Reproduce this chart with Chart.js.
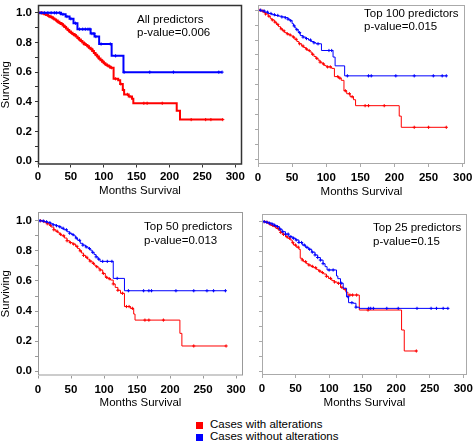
<!DOCTYPE html>
<html>
<head>
<meta charset="utf-8">
<script src="https://cdn.jsdelivr.net/npm/chart.js@4.4.1/dist/chart.umd.min.js"></script>
<style>
body { margin:0; background:#fff; width:473px; height:442px; position:relative; overflow:hidden; font-family:"Liberation Sans", Arial, sans-serif; }
canvas { position:absolute; }
.note { position:absolute; font-size:11.5px; color:#000; white-space:nowrap; }
.leg { position:absolute; left:196px; font-size:11.5px; line-height:12px; white-space:nowrap; }
.leg span { display:inline-block; width:7px; height:7px; margin-right:7px; vertical-align:-0.5px; }
</style>
</head>
<body>
<canvas id="c1" width="250" height="200" style="left:0;top:0"></canvas>
<canvas id="c2" width="228" height="200" style="left:245px;top:0"></canvas>
<canvas id="c3" width="250" height="211" style="left:0;top:200px"></canvas>
<canvas id="c4" width="228" height="211" style="left:245px;top:200px"></canvas>

<div class="note" style="left:137px;top:13px;line-height:12.5px">All predictors<br>p-value=0.006</div>
<div class="note" style="left:364px;top:7px;line-height:12.5px">Top 100 predictors<br>p-value=0.015</div>
<div class="note" style="left:144px;top:219px;line-height:14px">Top 50 predictors<br>p-value=0.013</div>
<div class="note" style="left:373px;top:220px;line-height:14px">Top 25 predictors<br>p-value=0.15</div>

<div class="leg" style="top:418px"><span style="background:#ff0000"></span>Cases with alterations</div>
<div class="leg" style="top:430px"><span style="background:#0000ff"></span>Cases without alterations</div>

<script>
// All predictors
const p1RedT = [0, 5, 7.5, 10, 12.5, 15, 17.5, 20, 22.5, 25, 27.5, 30, 32.5, 35, 37.5, 40, 42.5, 45, 47.5, 50, 52.5, 55, 57.5, 60, 62.5, 65, 67.5, 70, 72.5, 75, 77.5, 80, 82.5, 85, 87.5, 90, 92.5, 95, 97.5, 100, 102.5, 105, 107.5, 110, 115, 122, 125, 129, 131, 138, 143, 145, 211, 216, 281];
const p1RedS = [1.0, 1.0, 0.995, 0.99, 0.985, 0.98, 0.975, 0.97, 0.962, 0.955, 0.948, 0.94, 0.932, 0.925, 0.915, 0.905, 0.895, 0.885, 0.875, 0.865, 0.858, 0.85, 0.84, 0.83, 0.82, 0.81, 0.80, 0.79, 0.783, 0.775, 0.765, 0.755, 0.742, 0.73, 0.718, 0.705, 0.692, 0.68, 0.67, 0.66, 0.652, 0.645, 0.638, 0.63, 0.555, 0.545, 0.52, 0.48, 0.45, 0.435, 0.42, 0.39, 0.34, 0.28, 0.28];
const p1RedC = [3, 6, 9, 12, 16, 18, 21, 24, 28, 30, 33, 37, 39, 42, 46, 48, 51, 55, 57, 61, 63, 66, 70, 72, 76, 78, 82, 84, 88, 91, 93, 97, 99, 103, 106, 109, 112, 118, 126, 130, 136, 140, 161, 166, 189, 233, 255, 263, 281];
const p1BlueT = [0, 30, 35, 42, 48, 54, 60, 80, 86, 93, 112, 130, 280];
const p1BlueS = [1.0, 1.0, 0.99, 0.975, 0.96, 0.93, 0.89, 0.86, 0.84, 0.79, 0.71, 0.60, 0.60];
const p1BlueC = [5, 10, 15, 20, 25, 28, 33, 38, 44, 50, 57, 63, 68, 72, 76, 79, 82, 85, 88, 96, 110, 118, 131, 170, 206, 275, 280];

// Top 100 predictors
const p2RedT = [0, 4, 8, 11, 15, 18, 20, 24, 27, 30, 33, 36, 39, 42, 45, 48, 51, 54, 57, 60, 64, 67, 70, 73, 76, 79, 82, 85, 88, 91, 94, 97, 100, 108, 112, 118, 122, 126, 130, 135, 140, 143, 207, 210, 276];
const p2RedS = [1.0, 0.995, 0.985, 0.975, 0.96, 0.945, 0.935, 0.92, 0.905, 0.89, 0.875, 0.862, 0.85, 0.842, 0.835, 0.828, 0.82, 0.805, 0.79, 0.775, 0.76, 0.75, 0.74, 0.73, 0.72, 0.705, 0.69, 0.678, 0.665, 0.652, 0.64, 0.63, 0.62, 0.61, 0.555, 0.545, 0.53, 0.46, 0.44, 0.42, 0.40, 0.36, 0.29, 0.215, 0.215];
const p2RedC = [3, 7, 11, 16, 21, 25, 29, 34, 38, 43, 47, 52, 56, 61, 66, 71, 75, 80, 86, 91, 96, 102, 106, 117, 120, 128, 134, 138, 157, 162, 185, 229, 250, 276];
const p2BlueT = [0, 5, 10, 15, 20, 25, 30, 35, 40, 44, 47, 50, 52, 54, 56, 59, 62, 66, 70, 74, 78, 82, 85, 93, 110, 113, 127, 276];
const p2BlueS = [1.0, 0.995, 0.987, 0.978, 0.97, 0.965, 0.96, 0.955, 0.95, 0.94, 0.93, 0.91, 0.895, 0.882, 0.87, 0.85, 0.83, 0.82, 0.81, 0.80, 0.79, 0.782, 0.775, 0.73, 0.686, 0.627, 0.56, 0.56];
const p2BlueC = [4, 9, 14, 19, 24, 29, 35, 40, 44, 48, 53, 57, 61, 66, 71, 77, 82, 88, 104, 108, 131, 162, 166, 202, 229, 257, 270, 276];

// Top 50 predictors
const p3RedT = [0, 7, 10, 14, 17, 20, 24, 27, 30, 33, 36, 40, 44, 48, 52, 57, 60, 63, 66, 69, 72, 75, 78, 82, 85, 88, 91, 94, 98, 102, 106, 110, 114, 117, 121, 125, 131, 140, 145, 147, 215, 218, 285];
const p3RedS = [1.0, 0.995, 0.99, 0.98, 0.97, 0.958, 0.94, 0.93, 0.92, 0.91, 0.90, 0.885, 0.867, 0.855, 0.845, 0.83, 0.815, 0.80, 0.785, 0.77, 0.757, 0.745, 0.732, 0.717, 0.705, 0.695, 0.685, 0.673, 0.65, 0.624, 0.615, 0.606, 0.58, 0.557, 0.538, 0.518, 0.43, 0.418, 0.38, 0.34, 0.252, 0.168, 0.168];
const p3RedC = [4, 9, 14, 19, 24, 29, 34, 39, 44, 49, 54, 59, 64, 69, 74, 79, 84, 89, 94, 99, 104, 108, 114, 121, 128, 134, 138, 143, 162, 168, 190, 236, 285];
const p3BlueT = [0, 5, 10, 15, 19, 23, 27, 31, 35, 39, 44, 48, 51, 54, 57, 60, 64, 68, 72, 76, 79, 82, 85, 88, 91, 94, 114, 131, 284];
const p3BlueS = [1.0, 0.998, 0.993, 0.987, 0.98, 0.973, 0.967, 0.96, 0.95, 0.94, 0.927, 0.917, 0.908, 0.90, 0.885, 0.87, 0.85, 0.838, 0.826, 0.815, 0.805, 0.79, 0.775, 0.76, 0.745, 0.73, 0.617, 0.535, 0.535];
const p3BlueC = [3, 8, 13, 18, 23, 28, 33, 38, 43, 48, 53, 58, 63, 68, 73, 78, 83, 88, 92, 98, 105, 112, 120, 137, 160, 168, 172, 209, 236, 256, 266, 284];

// Top 25 predictors
const p4RedT = [0, 5, 10, 13, 17, 21, 25, 28, 31, 35, 38, 42, 45, 47, 51, 55, 57, 60, 62, 66, 69, 73, 77, 81, 84, 88, 92, 96, 99, 104, 108, 112, 117, 121, 125, 128, 145, 208, 212, 230];
const p4RedS = [1.0, 0.995, 0.984, 0.975, 0.967, 0.955, 0.94, 0.928, 0.915, 0.90, 0.89, 0.878, 0.86, 0.844, 0.83, 0.816, 0.756, 0.745, 0.733, 0.72, 0.711, 0.702, 0.693, 0.682, 0.671, 0.661, 0.651, 0.636, 0.622, 0.607, 0.598, 0.589, 0.562, 0.549, 0.53, 0.511, 0.411, 0.278, 0.138, 0.138];
const p4RedC = [4, 8, 12, 16, 20, 24, 28, 32, 37, 41, 46, 50, 54, 60, 65, 70, 75, 80, 86, 90, 96, 102, 108, 114, 119, 124, 131, 135, 141, 158, 230];
const p4BlueT = [0, 5, 10, 15, 19, 22, 26, 30, 35, 40, 45, 50, 55, 60, 65, 69, 74, 79, 83, 87, 91, 94, 97, 111, 113, 117, 121, 126, 129, 136, 140, 145, 278];
const p4BlueS = [1.0, 0.996, 0.99, 0.984, 0.975, 0.967, 0.95, 0.933, 0.917, 0.90, 0.89, 0.878, 0.861, 0.844, 0.829, 0.816, 0.797, 0.778, 0.761, 0.744, 0.72, 0.70, 0.678, 0.638, 0.62, 0.59, 0.556, 0.50, 0.46, 0.456, 0.43, 0.422, 0.422];
const p4BlueC = [3, 7, 11, 15, 19, 23, 27, 31, 35, 39, 43, 47, 51, 55, 59, 63, 67, 71, 75, 79, 83, 87, 91, 100, 106, 118, 128, 134, 140, 159, 162, 166, 186, 203, 231, 252, 260, 270, 277];

const FONT = '"Liberation Sans", Arial, sans-serif';
const RED = '#ff0000';
const BLUE = '#0000ff';

// survival value of a step curve at time t
function survAt(T, S, t) {
    let s = S[0];
    for (let i = 0; i < T.length; i++) {
        if (T[i] <= t) s = S[i];
    }
    return s;
}

function curve(T, S, color, w) {
    return {
        data: T.map((t, i) => ({ x: t, y: S[i] })),
        showLine: true,
        stepped: true,
        borderColor: color,
        borderWidth: w,
        pointRadius: 0
    };
}

function marks(C, T, S, color) {
    return {
        data: C.map(t => ({ x: t, y: survAt(T, S, t) })),
        showLine: false,
        pointStyle: 'cross',
        pointRadius: 1.6,
        borderColor: color,
        borderWidth: 1
    };
}

const boxPlugin = {
    id: 'box',
    afterDraw(chart, args, opts) {
        const a = chart.chartArea;
        const ctx = chart.ctx;
        ctx.save();
        ctx.strokeStyle = opts.color;
        ctx.lineWidth = opts.width;
        ctx.strokeRect(a.left + 0.5, a.top + 0.5, a.right - a.left - 1, a.bottom - a.top - 1);
        ctx.restore();
    }
};

// drop the label overhang padding so the plot box sits where it is told
function noPad(s) {
    s.paddingTop = 0;
    s.paddingBottom = 0;
    s.paddingLeft = 0;
    s.paddingRight = 0;
}

function makePanel(id, o) {
    new Chart(document.getElementById(id), {
        type: 'scatter',
        data: {
            datasets: [
                curve(o.blueT, o.blueS, BLUE, o.lw),
                marks(o.blueC, o.blueT, o.blueS, BLUE),
                curve(o.redT, o.redS, RED, o.lw),
                marks(o.redC, o.redT, o.redS, RED)
            ]
        },
        options: {
            responsive: false,
            animation: false,
            layout: { padding: { top: o.padTop, right: o.padRight, left: 0, bottom: 0 } },
            plugins: {
                legend: { display: false },
                tooltip: { enabled: false },
                box: { color: o.boxColor, width: o.boxWidth }
            },
            scales: {
                x: {
                    type: 'linear',
                    min: 0,
                    max: o.xMax,
                    afterFit: s => { s.height = o.xH; noPad(s); },
                    ticks: {
                        stepSize: 50,
                        includeBounds: false,
                        autoSkip: false,
                        maxRotation: 0,
                        padding: o.xPad,
                        color: '#000',
                        font: { family: FONT, size: 11.5, weight: 'bold' }
                    },
                    grid: { drawOnChartArea: false, tickLength: 3, color: o.boxColor },
                    border: { display: false },
                    title: {
                        display: true,
                        text: 'Months Survival',
                        color: '#000',
                        font: { family: FONT, size: 11.5 },
                        padding: { top: 0, bottom: o.titlePad }
                    }
                },
                y: {
                    type: 'linear',
                    min: o.yMin,
                    max: o.yMax,
                    afterFit: s => { s.width = o.yW; noPad(s); },
                    ticks: {
                        display: o.yLabels,
                        stepSize: 0.1,
                        includeBounds: false,
                        autoSkip: false,
                        padding: 3,
                        color: '#000',
                        font: { family: FONT, size: 11.5, weight: 'bold' },
                        callback: v => (Math.round(v * 10) % 2 === 0 ? v.toFixed(1) : '')
                    },
                    grid: { drawOnChartArea: false, tickLength: 3, color: o.boxColor },
                    border: { display: false },
                    title: {
                        display: o.yLabels,
                        text: 'Surviving',
                        color: '#000',
                        font: { family: FONT, size: 11.5 },
                        padding: { top: -1, bottom: 0 }
                    }
                }
            }
        },
        plugins: [boxPlugin]
    });
}

makePanel('c1', {
    redT: p1RedT, redS: p1RedS, redC: p1RedC, blueT: p1BlueT, blueS: p1BlueS, blueC: p1BlueC,
    lw: 2, boxColor: '#333', boxWidth: 1.5, padTop: 3, padRight: 8,
    xMax: 310.3, xH: 35.5, xPad: 2, titlePad: 2.5,
    yMin: -0.023, yMax: 1.053, yW: 38, yLabels: true
});
makePanel('c2', {
    redT: p2RedT, redS: p2RedS, redC: p2RedC, blueT: p2BlueT, blueS: p2BlueS, blueC: p2BlueC,
    lw: 1, boxColor: '#aaa', boxWidth: 1, padTop: 2, padRight: 8,
    xMax: 303.4, xH: 36, xPad: 4, titlePad: 1.5,
    yMin: -0.031, yMax: 1.035, yW: 13, yLabels: false
});
makePanel('c3', {
    redT: p3RedT, redS: p3RedS, redC: p3RedC, blueT: p3BlueT, blueS: p3BlueS, blueC: p3BlueC,
    lw: 1, boxColor: '#999', boxWidth: 1, padTop: 12, padRight: 7,
    xMax: 310.6, xH: 35.5, xPad: 4, titlePad: 1,
    yMin: -0.028, yMax: 1.058, yW: 38, yLabels: true
});
makePanel('c4', {
    redT: p4RedT, redS: p4RedS, redC: p4RedC, blueT: p4BlueT, blueS: p4BlueS, blueC: p4BlueC,
    lw: 1, boxColor: '#aaa', boxWidth: 1, padTop: 14, padRight: 6,
    xMax: 305.5, xH: 36, xPad: 4, titlePad: 1,
    yMin: -0.022, yMax: 1.051, yW: 17, yLabels: false
});
</script>
</body>
</html>
